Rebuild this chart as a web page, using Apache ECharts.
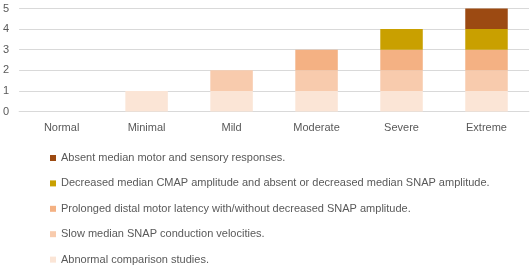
<!DOCTYPE html>
<html>
<head>
<meta charset="utf-8">
<script src="https://cdn.jsdelivr.net/npm/echarts@6/dist/echarts.min.js"></script>
<style>
  html, body { margin: 0; padding: 0; background: #fff; }
  #chart { width: 530px; height: 270px; }
</style>
</head>
<body>
<div id="chart"></div>
<script>
// categories and stacked values (bottom to top)
const categories = ['Normal', 'Minimal', 'Mild', 'Moderate', 'Severe', 'Extreme'];
const abnormalComparison = [0, 1, 1, 1, 1, 1];
const slowSnap = [0, 0, 1, 1, 1, 1];
const prolongedLatency = [0, 0, 0, 1, 1, 1];
const decreasedCmap = [0, 0, 0, 0, 1, 1];
const absentResponses = [0, 0, 0, 0, 0, 1];

const seriesNames = [
    'Abnormal comparison studies.',
    'Slow median SNAP conduction velocities.',
    'Prolonged distal motor latency with/without decreased SNAP amplitude.',
    'Decreased median CMAP amplitude and absent or decreased median SNAP amplitude.',
    'Absent median motor and sensory responses.'
];
const seriesValues = [abnormalComparison, slowSnap, prolongedLatency, decreasedCmap, absentResponses];
const seriesColors = ['#FBE5D6', '#F8CBAD', '#F4B183', '#C9A000', '#9C4A12'];

const textColor = '#595959';
const font = 'Liberation Sans';

const chart = echarts.init(document.getElementById('chart'));
chart.setOption({
    animation: false,
    grid: { left: 18, right: 1, top: 8.5, height: 103, containLabel: false },
    xAxis: {
        type: 'category',
        data: categories,
        axisLine: { show: true, lineStyle: { color: '#D9D9D9' } },
        axisTick: { show: false },
        axisLabel: { color: textColor, fontFamily: font, fontSize: 11, margin: 11 }
    },
    yAxis: {
        type: 'value',
        min: 0,
        max: 5,
        interval: 1,
        axisLine: { show: false },
        axisTick: { show: false },
        splitLine: { lineStyle: { color: '#D9D9D9' } },
        axisLabel: { color: textColor, fontFamily: font, fontSize: 11, margin: 10 }
    },
    legend: {
        orient: 'vertical',
        left: 50,
        top: 151,
        padding: 0,
        itemWidth: 6,
        itemHeight: 6,
        itemGap: 11.4,
        icon: 'rect',
        data: seriesNames.slice().reverse(),
        textStyle: { color: textColor, fontFamily: font, fontSize: 11, lineHeight: 14 }
    },
    series: seriesNames.map((name, i) => ({
        name: name,
        type: 'bar',
        stack: 'total',
        barWidth: '50%',
        data: seriesValues[i],
        itemStyle: { color: seriesColors[i] }
    }))
});
</script>
</body>
</html>
